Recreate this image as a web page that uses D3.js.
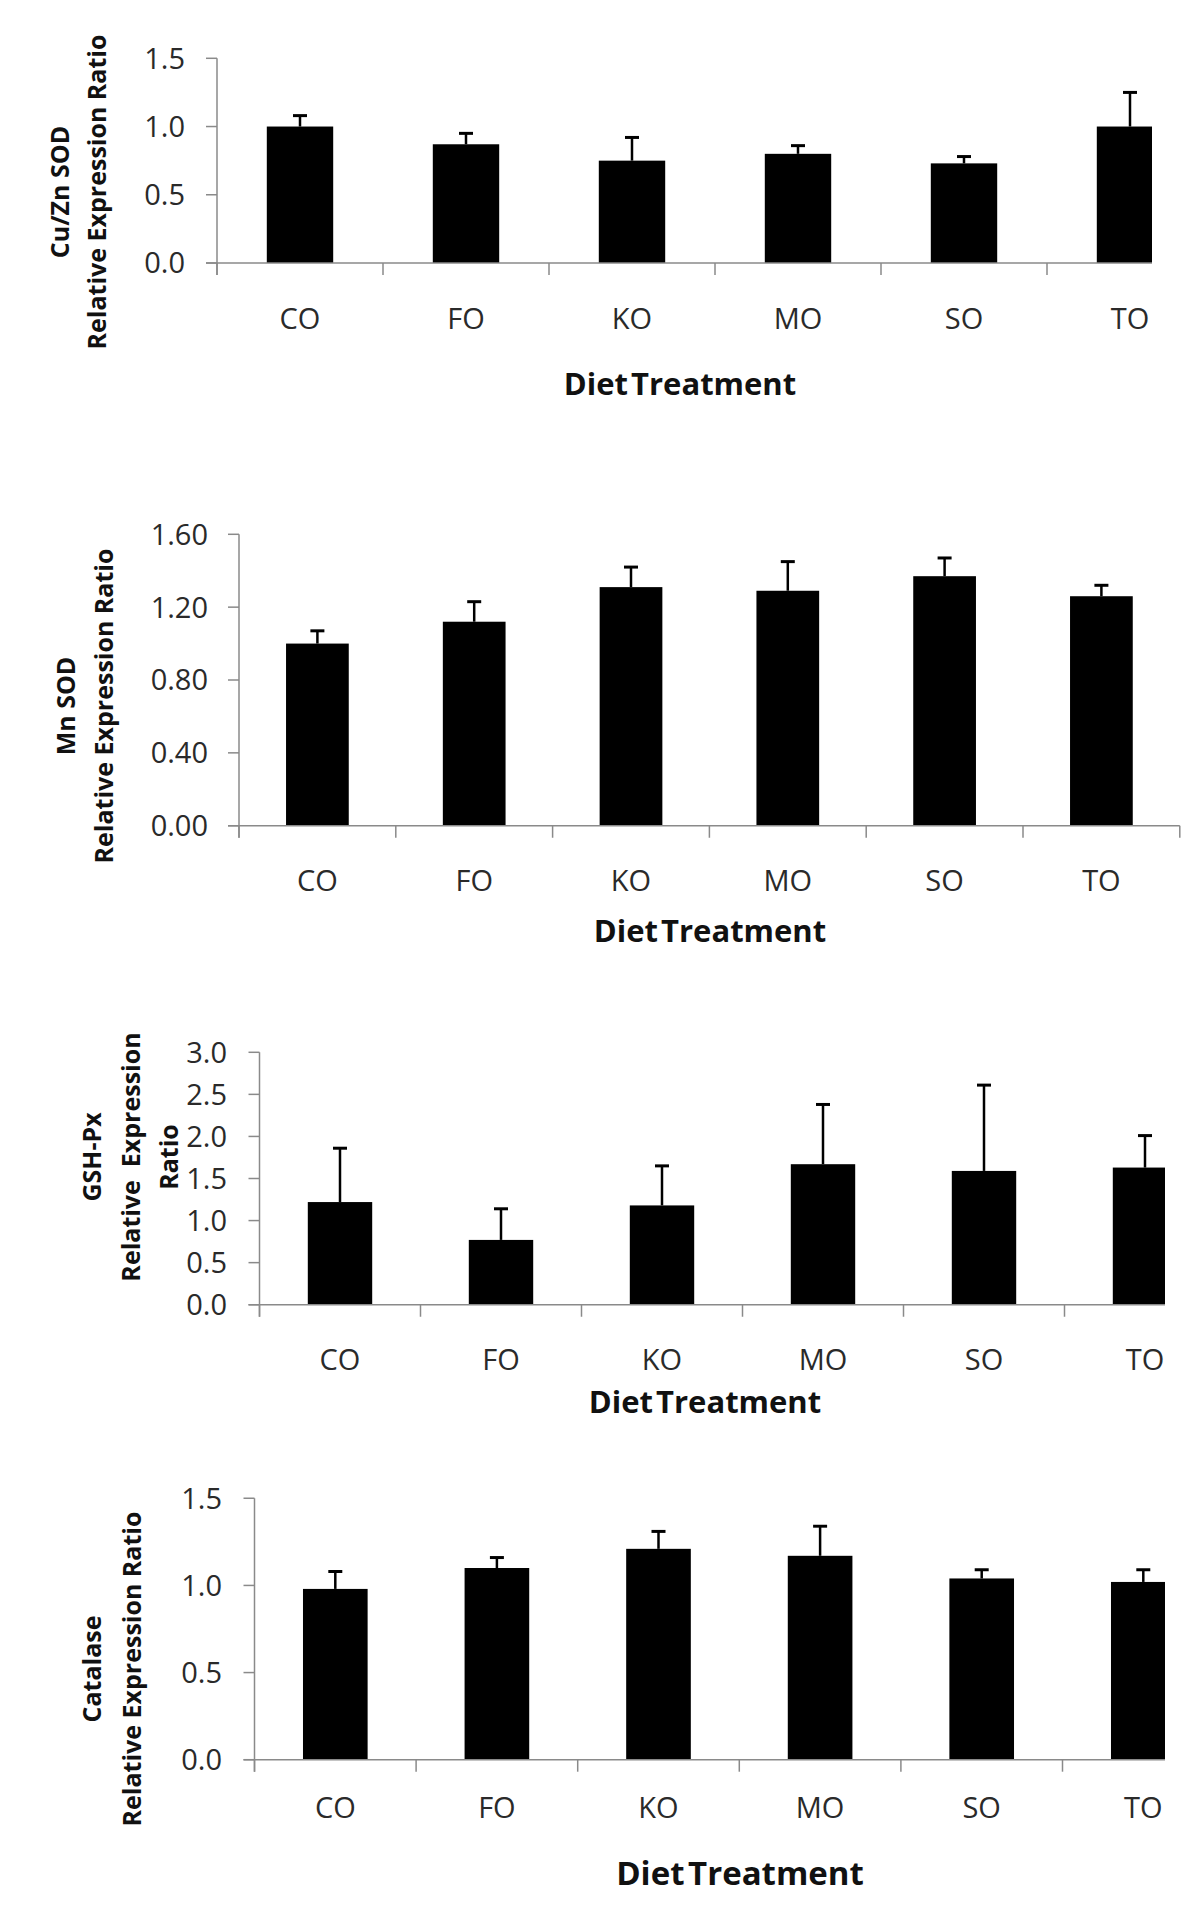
<!DOCTYPE html>
<html>
<head>
<meta charset="utf-8">
<script src="https://cdnjs.cloudflare.com/ajax/libs/d3/7.8.5/d3.min.js"></script>
<style>
  html, body { margin: 0; padding: 0; background: #fff; }
  svg { display: block; }
  text { font-family: "Open Sans", "Noto Sans", sans-serif; }
</style>
</head>
<body>
<svg id="chart" width="1200" height="1920"></svg>
<script>
// ---------------- DATA ----------------
const categories = ["CO", "FO", "KO", "MO", "SO", "TO"];

const cuznMean = [1.00, 0.87, 0.75, 0.80, 0.73, 1.00];
const cuznSE   = [0.08, 0.08, 0.17, 0.06, 0.05, 0.25];
const cuznTicks = [0, 0.5, 1.0, 1.5];

const mnMean = [1.00, 1.12, 1.31, 1.29, 1.37, 1.26];
const mnSE   = [0.07, 0.11, 0.11, 0.16, 0.10, 0.06];
const mnTicks = [0, 0.4, 0.8, 1.2, 1.6];

const gshMean = [1.22, 0.77, 1.18, 1.67, 1.59, 1.63];
const gshSE   = [0.64, 0.37, 0.47, 0.71, 1.02, 0.38];
const gshTicks = [0, 0.5, 1.0, 1.5, 2.0, 2.5, 3.0];

const catMean = [0.98, 1.10, 1.21, 1.17, 1.04, 1.02];
const catSE   = [0.10, 0.06, 0.10, 0.17, 0.05, 0.07];
const catTicks = [0, 0.5, 1.0, 1.5];

const xTitle = "Diet Treatment";

// ---------------- LAYOUT ----------------
const panels = [
  { mean: cuznMean, se: cuznSE, ticks: cuznTicks, fmt: ".1f",
    left: 217, top: 58.3, bottom: 263, band: 166, clipRight: 1152,
    catBase: 329, titleBase: 395, titleX: 680, titleSize: 31,
    ylab: [{ t: "Cu/Zn SOD", x: 60 }, { t: "Relative Expression Ratio", x: 97 }], ylabCY: 192,
    tickRight: 185 },
  { mean: mnMean, se: mnSE, ticks: mnTicks, fmt: ".2f",
    left: 239, top: 534.3, bottom: 825.7, band: 156.8, clipRight: 1190,
    catBase: 891, titleBase: 942, titleX: 710, titleSize: 31,
    ylab: [{ t: "Mn SOD", x: 66 }, { t: "Relative Expression Ratio", x: 104 }], ylabCY: 706,
    tickRight: 208 },
  { mean: gshMean, se: gshSE, ticks: gshTicks, fmt: ".1f",
    left: 259.5, top: 1052.3, bottom: 1304.7, band: 161, clipRight: 1165,
    catBase: 1370, titleBase: 1413, titleX: 705, titleSize: 31,
    ylab: [{ t: "GSH-Px", x: 92 }, { t: "Relative  Expression", x: 131 }, { t: "Ratio", x: 169 }], ylabCY: 1157,
    tickRight: 227 },
  { mean: catMean, se: catSE, ticks: catTicks, fmt: ".1f",
    left: 254.5, top: 1498.3, bottom: 1759.7, band: 161.6, clipRight: 1165,
    catBase: 1818, titleBase: 1885, titleX: 740, titleSize: 33,
    ylab: [{ t: "Catalase", x: 92 }, { t: "Relative Expression Ratio", x: 132 }], ylabCY: 1669,
    tickRight: 222 }
];

const svg = d3.select("#chart");
const axisColor = "#8a8a8a";
const textColor = "#2a2a2a";

panels.forEach((p, i) => {
  const x = d3.scaleBand().domain(categories)
    .range([p.left, p.left + p.band * categories.length]).padding(0);
  const yMax = p.ticks[p.ticks.length - 1];
  const y = d3.scaleLinear().domain([0, yMax]).range([p.bottom, p.top]);

  const clipId = "clip" + i;
  svg.append("clipPath").attr("id", clipId)
    .append("rect").attr("x", 0).attr("y", p.top - 80)
    .attr("width", p.clipRight).attr("height", p.bottom - p.top + 200);

  const g = svg.append("g").attr("clip-path", `url(#${clipId})`);

  // y axis line
  g.append("line")
    .attr("x1", p.left).attr("x2", p.left)
    .attr("y1", y(yMax)).attr("y2", p.bottom + 12)
    .attr("stroke", axisColor).attr("stroke-width", 1.5);

  // y ticks + labels
  const fmt = d3.format(p.fmt);
  p.ticks.forEach(t => {
    g.append("line")
      .attr("x1", p.left - 11).attr("x2", p.left)
      .attr("y1", y(t)).attr("y2", y(t))
      .attr("stroke", axisColor).attr("stroke-width", 1.5);
    svg.append("text")
      .attr("x", p.tickRight).attr("y", y(t))
      .attr("dy", "0.36em")
      .attr("text-anchor", "end")
      .attr("font-size", 29)
      .attr("fill", textColor)
      .text(fmt(t));
  });

  // bars
  const bw = x.bandwidth() * 0.4;
  g.selectAll(".bar" + i).data(categories).enter().append("rect")
    .attr("x", (d) => x(d) + x.bandwidth() / 2 - bw / 2)
    .attr("y", (d, j) => y(p.mean[j]))
    .attr("width", bw)
    .attr("height", (d, j) => p.bottom - y(p.mean[j]))
    .attr("fill", "#000");

  // error bars (upper only)
  categories.forEach((c, j) => {
    const cx = x(c) + x.bandwidth() / 2;
    g.append("line")
      .attr("x1", cx).attr("x2", cx)
      .attr("y1", y(p.mean[j])).attr("y2", y(p.mean[j] + p.se[j]))
      .attr("stroke", "#000").attr("stroke-width", 2.5);
    g.append("line")
      .attr("x1", cx - 7).attr("x2", cx + 7)
      .attr("y1", y(p.mean[j] + p.se[j])).attr("y2", y(p.mean[j] + p.se[j]))
      .attr("stroke", "#000").attr("stroke-width", 3);
  });

  // x axis line
  g.append("line")
    .attr("x1", p.left - 11).attr("x2", p.left + p.band * categories.length)
    .attr("y1", p.bottom).attr("y2", p.bottom)
    .attr("stroke", axisColor).attr("stroke-width", 1.5);

  // x ticks at band boundaries
  d3.range(categories.length + 1).forEach(k => {
    const tx = p.left + k * x.step();
    g.append("line")
      .attr("x1", tx).attr("x2", tx)
      .attr("y1", p.bottom).attr("y2", p.bottom + 12)
      .attr("stroke", axisColor).attr("stroke-width", 1.5);
  });

  // category labels
  categories.forEach(c => {
    svg.append("text")
      .attr("x", x(c) + x.bandwidth() / 2).attr("y", p.catBase)
      .attr("text-anchor", "middle")
      .attr("font-size", 29)
      .attr("fill", textColor)
      .text(c);
  });

  // x title
  svg.append("text")
    .attr("x", p.titleX).attr("y", p.titleBase)
    .attr("text-anchor", "middle")
    .attr("font-size", p.titleSize)
    .attr("font-weight", "bold")
    .attr("fill", "#111")
    .style("word-spacing", "-5px")
    .text(xTitle);

  // y title lines
  p.ylab.forEach(l => {
    svg.append("text")
      .attr("transform", `translate(${l.x},${p.ylabCY}) rotate(-90)`)
      .attr("text-anchor", "middle")
      .attr("dy", "0.35em")
      .attr("font-size", 25)
      .attr("font-weight", "bold")
      .attr("fill", "#111")
      .style("white-space", "pre")
      .text(l.t);
  });
});
</script>
</body>
</html>
